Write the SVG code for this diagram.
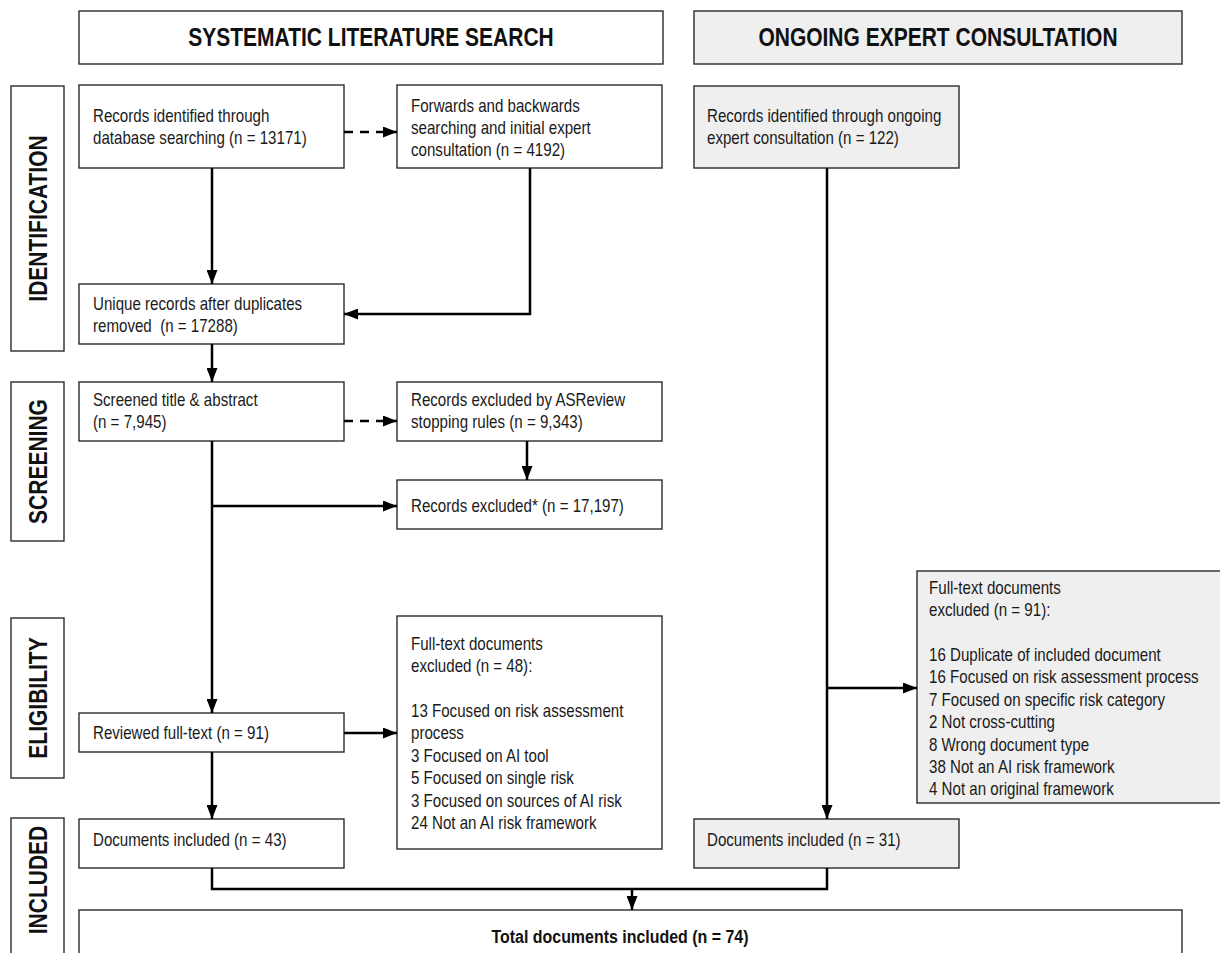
<svg xmlns="http://www.w3.org/2000/svg" width="1220" height="953" viewBox="0 0 1220 953">
<style>
.box{fill:#ffffff;stroke:#2b2b2b;stroke-width:1.4}
.gray{fill:#efefef}
.t{font-family:"Liberation Sans",Arial,sans-serif;font-size:18px;fill:#1a1a1a;transform:scaleX(0.84)}
.hd{font-family:"Liberation Sans",Arial,sans-serif;font-size:25px;font-weight:bold;fill:#111;text-anchor:middle;transform:scaleX(0.84)}
.ph{font-family:"Liberation Sans",Arial,sans-serif;font-size:25px;font-weight:bold;fill:#111;text-anchor:middle}
.tot{font-family:"Liberation Sans",Arial,sans-serif;font-size:19px;font-weight:bold;fill:#111;text-anchor:middle;transform:scaleX(0.84)}
.ln{fill:none;stroke:#000;stroke-width:2.5}
.dash{stroke-dasharray:9 7}
</style>
<defs>
<marker id="ah" viewBox="0 0 14 11" refX="14" refY="5.5" markerWidth="14" markerHeight="11" markerUnits="userSpaceOnUse" orient="auto">
<path d="M0,0 L14,5.5 L0,11 Z" fill="#000"/>
</marker>
</defs>

<g id="header-systematic">
<rect class="box" x="79" y="11" width="584" height="53"/>
<text class="hd" x="441.667" y="46">SYSTEMATIC LITERATURE SEARCH</text>
</g>
<g id="header-ongoing">
<rect class="box gray" x="694" y="11" width="488" height="53"/>
<text class="hd" x="1116.667" y="46">ONGOING EXPERT CONSULTATION</text>
</g>

<g id="phase-identification">
<rect class="box" x="11" y="86" width="53" height="265"/>
<text class="ph" transform="translate(46.5,218.5) rotate(-90) scale(0.84 1)">IDENTIFICATION</text>
</g>
<g id="phase-screening">
<rect class="box" x="11" y="382" width="53" height="159"/>
<text class="ph" transform="translate(46.5,461.5) rotate(-90) scale(0.84 1)">SCREENING</text>
</g>
<g id="phase-eligibility">
<rect class="box" x="11" y="618" width="53" height="160"/>
<text class="ph" transform="translate(46.5,698) rotate(-90) scale(0.84 1)">ELIGIBILITY</text>
</g>
<g id="phase-included">
<rect class="box" x="11" y="818" width="53" height="150"/>
<text class="ph" transform="translate(46.5,880) rotate(-90) scale(0.84 1)">INCLUDED</text>
</g>

<g id="records-database">
<rect class="box" x="79" y="85" width="265" height="83"/>
<text class="t" x="110.714" y="122">Records identified through</text>
<text class="t" x="110.714" y="144">database searching (n = 13171)</text>
</g>
<g id="forwards-backwards">
<rect class="box" x="397" y="85" width="265" height="83"/>
<text class="t" x="489.286" y="112">Forwards and backwards</text>
<text class="t" x="489.286" y="134">searching and initial expert</text>
<text class="t" x="489.286" y="156">consultation (n = 4192)</text>
</g>
<g id="records-ongoing">
<rect class="box gray" x="694" y="86" width="265" height="82"/>
<text class="t" x="841.667" y="122">Records identified through ongoing</text>
<text class="t" x="841.667" y="144">expert consultation (n = 122)</text>
</g>
<g id="unique-records">
<rect class="box" x="79" y="284" width="265" height="60"/>
<text class="t" x="110.714" y="310">Unique records after duplicates</text>
<text class="t" x="110.714" y="332" xml:space="preserve">removed  (n = 17288)</text>
</g>
<g id="screened">
<rect class="box" x="79" y="382" width="265" height="59"/>
<text class="t" x="110.714" y="406">Screened title &amp; abstract</text>
<text class="t" x="110.714" y="428">(n = 7,945)</text>
</g>
<g id="asreview-excluded">
<rect class="box" x="397" y="382" width="265" height="59"/>
<text class="t" x="489.286" y="406">Records excluded by ASReview</text>
<text class="t" x="489.286" y="428">stopping rules (n = 9,343)</text>
</g>
<g id="records-excluded">
<rect class="box" x="397" y="480" width="265" height="49"/>
<text class="t" x="489.286" y="512">Records excluded* (n = 17,197)</text>
</g>
<g id="reviewed-fulltext">
<rect class="box" x="79" y="713" width="265" height="39"/>
<text class="t" x="110.714" y="739">Reviewed full-text (n = 91)</text>
</g>
<g id="fulltext-excluded-48">
<rect class="box" x="397" y="616" width="265" height="233"/>
<text class="t" x="489.286" y="650">Full-text documents</text>
<text class="t" x="489.286" y="672">excluded (n = 48):</text>
<text class="t" x="489.286" y="717">13 Focused on risk assessment</text>
<text class="t" x="489.286" y="739">process</text>
<text class="t" x="489.286" y="762">3 Focused on AI tool</text>
<text class="t" x="489.286" y="784">5 Focused on single risk</text>
<text class="t" x="489.286" y="807">3 Focused on sources of AI risk</text>
<text class="t" x="489.286" y="829">24 Not an AI risk framework</text>
</g>
<g id="fulltext-excluded-91">
<rect class="box gray" x="917" y="571" width="320" height="232"/>
<text class="t" x="1105.952" y="594">Full-text documents</text>
<text class="t" x="1105.952" y="616">excluded (n = 91):</text>
<text class="t" x="1105.952" y="661">16 Duplicate of included document</text>
<text class="t" x="1105.952" y="683">16 Focused on risk assessment process</text>
<text class="t" x="1105.952" y="706">7 Focused on specific risk category</text>
<text class="t" x="1105.952" y="728">2 Not cross-cutting</text>
<text class="t" x="1105.952" y="751">8 Wrong document type</text>
<text class="t" x="1105.952" y="773">38 Not an AI risk framework</text>
<text class="t" x="1105.952" y="795">4 Not an original framework</text>
</g>
<g id="documents-included-43">
<rect class="box" x="79" y="819" width="265" height="49"/>
<text class="t" x="110.714" y="846">Documents included (n = 43)</text>
</g>
<g id="documents-included-31">
<rect class="box gray" x="694" y="819" width="265" height="49"/>
<text class="t" x="841.667" y="846">Documents included (n = 31)</text>
</g>
<g id="total-included">
<rect class="box" x="79" y="910" width="1103" height="60"/>
<text class="tot" x="738.1" y="943">Total documents included (n = 74)</text>
</g>

<g id="connectors">
<path class="ln dash" d="M344,132 H397" marker-end="url(#ah)"/>
<path class="ln" d="M212,168 V284" marker-end="url(#ah)"/>
<path class="ln" d="M530,168 V314 H344" marker-end="url(#ah)"/>
<path class="ln" d="M212,344 V382" marker-end="url(#ah)"/>
<path class="ln dash" d="M344,421 H397" marker-end="url(#ah)"/>
<path class="ln" d="M527,441 V480" marker-end="url(#ah)"/>
<path class="ln" d="M212,441 V713" marker-end="url(#ah)"/>
<path class="ln" d="M212,506 H397" marker-end="url(#ah)"/>
<path class="ln" d="M344,733 H397" marker-end="url(#ah)"/>
<path class="ln" d="M212,752 V819" marker-end="url(#ah)"/>
<path class="ln" d="M827,168 V819" marker-end="url(#ah)"/>
<path class="ln" d="M827,688 H917" marker-end="url(#ah)"/>
<path class="ln" d="M212,868 V889 H827 V868"/>
<path class="ln" d="M632,889 V910" marker-end="url(#ah)"/>
</g>
</svg>
